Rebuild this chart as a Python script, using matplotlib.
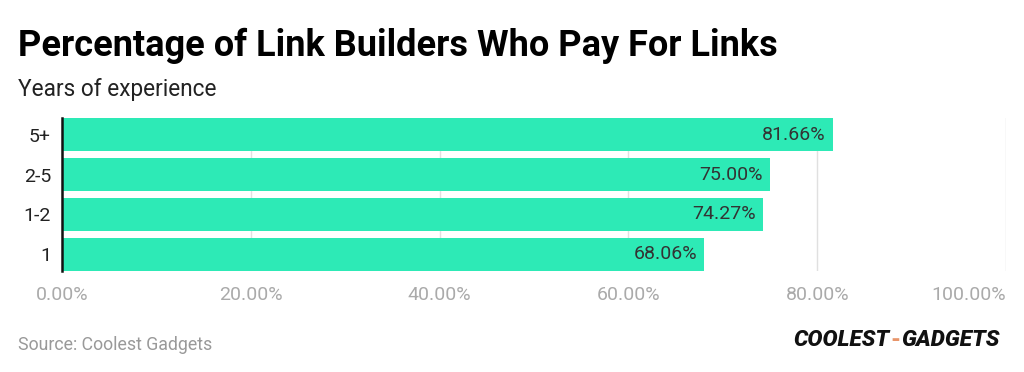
import matplotlib
matplotlib.use("Agg")
import matplotlib.pyplot as plt
from matplotlib.ticker import FuncFormatter

categories = ["1", "1-2", "2-5", "5+"]
values = [68.06, 74.27, 75.00, 81.66]
xticks = [0, 20, 40, 60, 80, 100]

title = "Percentage of Link Builders Who Pay For Links"
subtitle = "Years of experience"
source = "Source: Coolest Gadgets"

plt.rcParams['font.family'] = ['Roboto', 'DejaVu Sans']

fig = plt.figure(figsize=(10.24, 3.72), dpi=100)
ax = fig.add_axes([62/1024, 1-271/372, (1006-62)/1024, (271-118)/372])

bar_color = "#2DEAB6"
ypos = list(range(len(categories)))
ax.barh(ypos, values, height=0.84, color=bar_color, zorder=2)
for y, v in zip(ypos, values):
    ax.text(v - 0.8, y, f"{v:.2f}%", ha="right", va="center",
            fontsize=14, color="#333333", zorder=3)

ax.set_xlim(0, 100)
ax.set_ylim(-0.42, 3.42)
ax.set_yticks(ypos)
ax.set_yticklabels(categories, fontsize=14, color="#222222")
ax.set_xticks(xticks)
ax.xaxis.set_major_formatter(FuncFormatter(lambda x, p: f"{x:.2f}%"))
ax.tick_params(axis="x", labelsize=14, labelcolor="#aaaaaa", length=0, pad=11)
ax.tick_params(axis="y", length=0, pad=8)
ax.grid(axis="x", color="#e0e0e0", linewidth=1, zorder=0)
for s in ["top", "right", "bottom"]:
    ax.spines[s].set_visible(False)
ax.spines["left"].set_color("#111111")
ax.spines["left"].set_linewidth(1.8)
ax.spines["left"].set_zorder(4)
xl = ax.get_xticklabels()
xl[-1].set_horizontalalignment("right")

fig.text(18/1024, 1-56/372, title, fontsize=26, fontweight="bold", color="#000000", ha="left", va="baseline")
fig.text(18/1024, 1-96/372, subtitle, fontsize=16.3, color="#222222", ha="left", va="baseline")
fig.text(18/1024, 1-350/372, source, fontsize=12.8, color="#999999", ha="left", va="baseline")

# logo approximation
fig.canvas.draw()
r = fig.canvas.get_renderer()
x0 = 793
t1 = fig.text(x0/1024, 1-346/372, "COOLEST", fontsize=16.2, fontweight="heavy", fontstyle="italic",
              color="#111111", ha="left", va="baseline")
w1 = t1.get_window_extent(r).width
t2 = fig.text((x0 + w1 + 1)/1024, 1-346/372, "-", fontsize=16.2, fontweight="heavy", color="#E8956A",
              ha="left", va="baseline")
w2 = t2.get_window_extent(r).width
fig.text((x0 + w1 + w2 + 2)/1024, 1-346/372, "GADGETS", fontsize=16.2, fontweight="heavy", fontstyle="italic",
         color="#111111", ha="left", va="baseline")

fig.savefig("out.png", dpi=100)
